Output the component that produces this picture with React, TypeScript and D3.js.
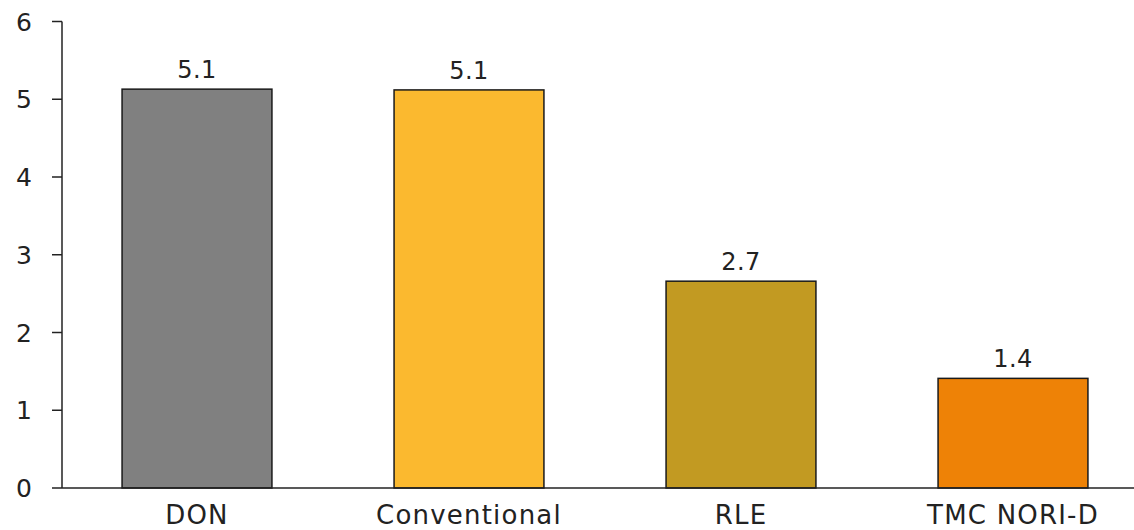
import React from "react";
import * as d3 from "d3";

const categories = ["DON", "Conventional", "RLE", "TMC NORI-D"];
const values = [5.13, 5.12, 2.66, 1.41];
const colors = ["#808080", "#FBB92F", "#C29A22", "#EE8206"];
const yTicks = [0, 1, 2, 3, 4, 5, 6];

const W = 1134;
const H = 530;
const FONT = "'DejaVu Sans', sans-serif";

export default function App() {
  const x = d3.scaleBand<string>().domain(categories).range([61, 1149]).paddingInner(0.449).paddingOuter(0.2245);
  const y = d3.scaleLinear().domain([0, 6]).range([488, 21.5]);
  const axisX = 62;

  return (
    <svg width={W} height={H} style={{ position: "absolute", left: 0, top: 0, background: "#fff" }}>
      {categories.map((c, i) => {
        const x0 = x(c)!;
        const bw = x.bandwidth();
        return (
          <g key={c}>
            <rect x={x0} y={y(values[i])} width={bw} height={y(0) - y(values[i])} fill={colors[i]} stroke="#1a1a1a" strokeWidth={1.5} />
            <text x={x0 + bw / 2} y={y(values[i]) - 11} textAnchor="middle" fontFamily={FONT} fontSize={24} fill="#222" letterSpacing={0.5}>
              {d3.format(".1f")(values[i])}
            </text>
            <text x={x0 + bw / 2} y={524} textAnchor="middle" fontFamily={FONT} fontSize={26} fill="#222" letterSpacing={1.2}>
              {c}
            </text>
          </g>
        );
      })}
      <line x1={axisX} x2={W} y1={y(0)} y2={y(0)} stroke="#222" strokeWidth={1.5} />
      <line x1={axisX} x2={axisX} y1={y(6)} y2={y(0)} stroke="#222" strokeWidth={1.5} />
      {yTicks.map((t) => (
        <g key={t}>
          <line x1={52} x2={axisX} y1={y(t)} y2={y(t)} stroke="#222" strokeWidth={1.5} />
          <text x={32} y={y(t)} dy="0.36em" textAnchor="end" fontFamily={FONT} fontSize={25} fill="#222">
            {t}
          </text>
        </g>
      ))}
    </svg>
  );
}
